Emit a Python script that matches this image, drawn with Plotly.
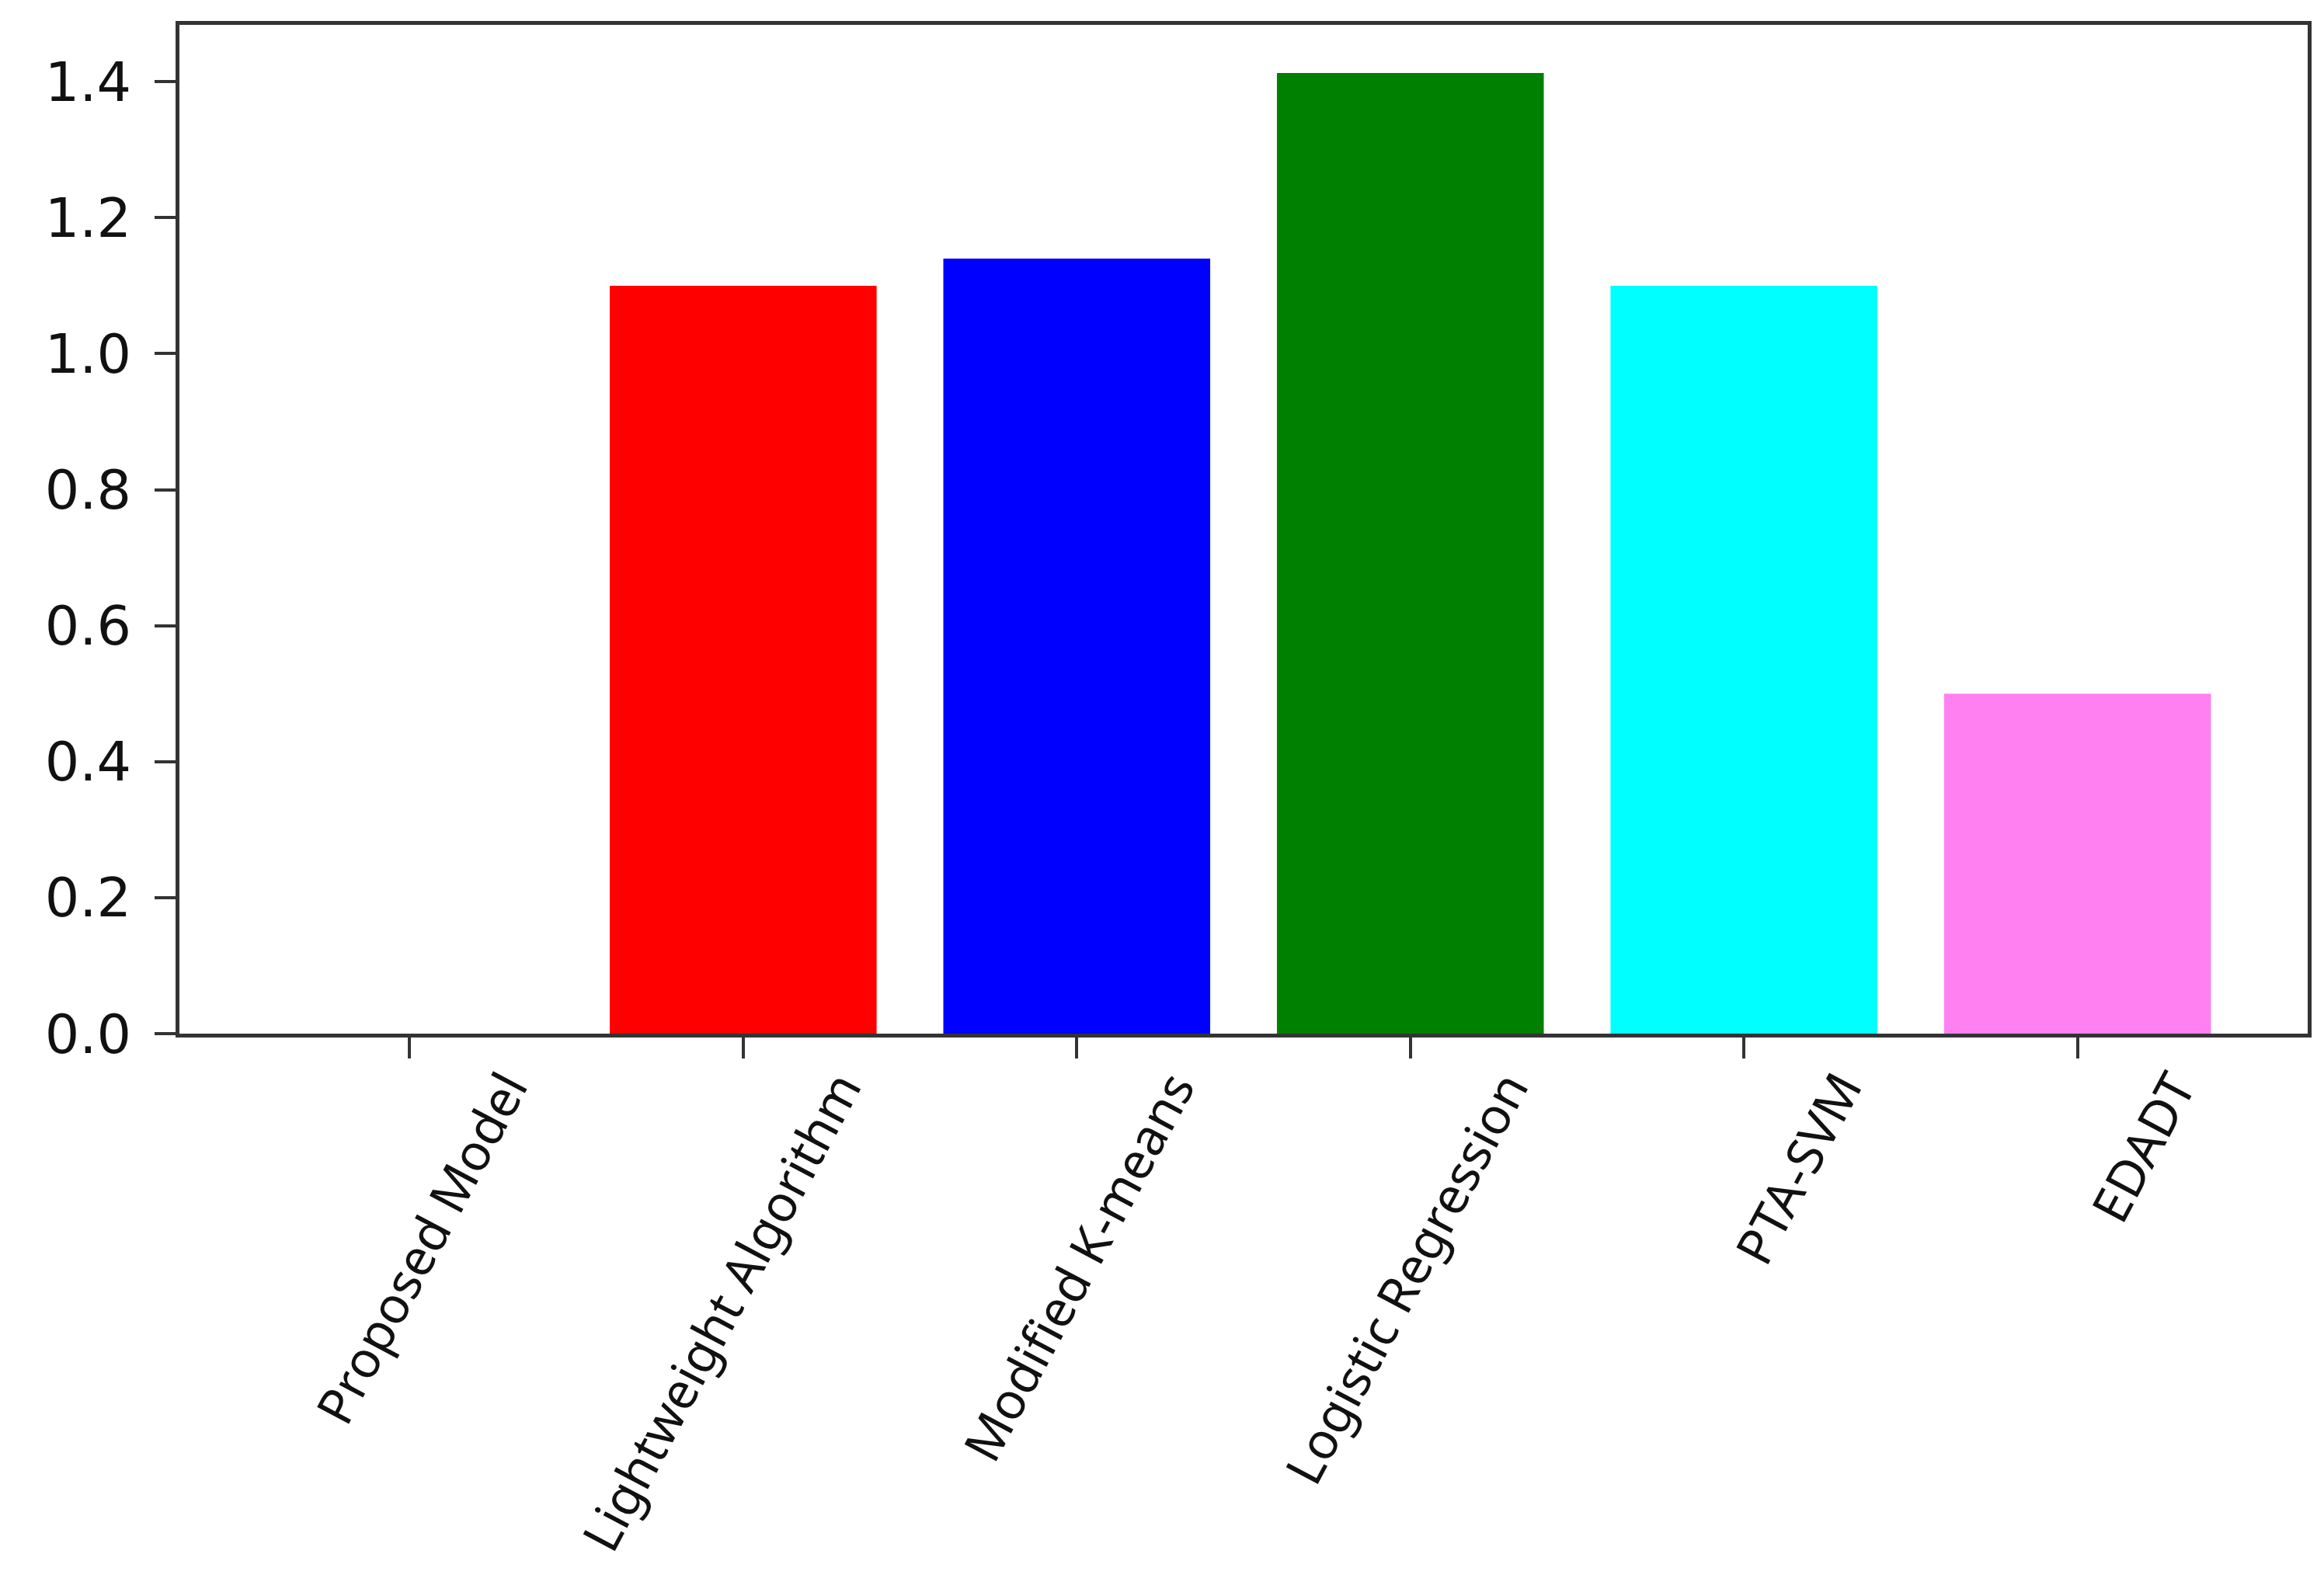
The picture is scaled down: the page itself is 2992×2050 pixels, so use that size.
import plotly.graph_objects as go

models = ["Proposed Model", "Lightweight Algorithm", "Modified K-means",
          "Logistic Regression", "PTA-SVM", "EDADT"]
values = [0.0, 1.10, 1.14, 1.413, 1.10, 0.50]
colors = ["#0000ff", "#ff0000", "#0000ff", "#008000", "#00ffff", "#ff80f0"]

fig = go.Figure(go.Bar(x=models, y=values, marker_color=colors, marker_line_width=0, width=0.8))

fig.update_layout(
    width=2992, height=2050,
    margin=dict(l=223, r=29, t=24, b=727),
    plot_bgcolor="white", paper_bgcolor="white",
    showlegend=False,
    font=dict(family="DejaVu Sans", color="#111111"),
)
fig.update_xaxes(
    range=[-0.69, 5.69], showline=True, linecolor="#333333", linewidth=5, mirror=True,
    ticks="outside", ticklen=27, tickwidth=4, tickcolor="#333333",
    tickangle=-62, ticklabelshift=125, ticklabelstandoff=-26,
    tickfont=dict(family="Noto Sans", size=65, color="#111111"),
    showgrid=False,
)
fig.update_yaxes(
    range=[0, 1.4837], tickvals=[0, 0.2, 0.4, 0.6, 0.8, 1.0, 1.2, 1.4], tickformat=".1f",
    showline=True, linecolor="#333333", linewidth=5, mirror=True,
    ticks="outside", ticklen=27, tickwidth=4, tickcolor="#333333",
    ticklabelstandoff=16,
    tickfont=dict(family="DejaVu Sans", size=70, color="#111111"),
    showgrid=False, zeroline=False,
)

fig.write_html("out.html")
